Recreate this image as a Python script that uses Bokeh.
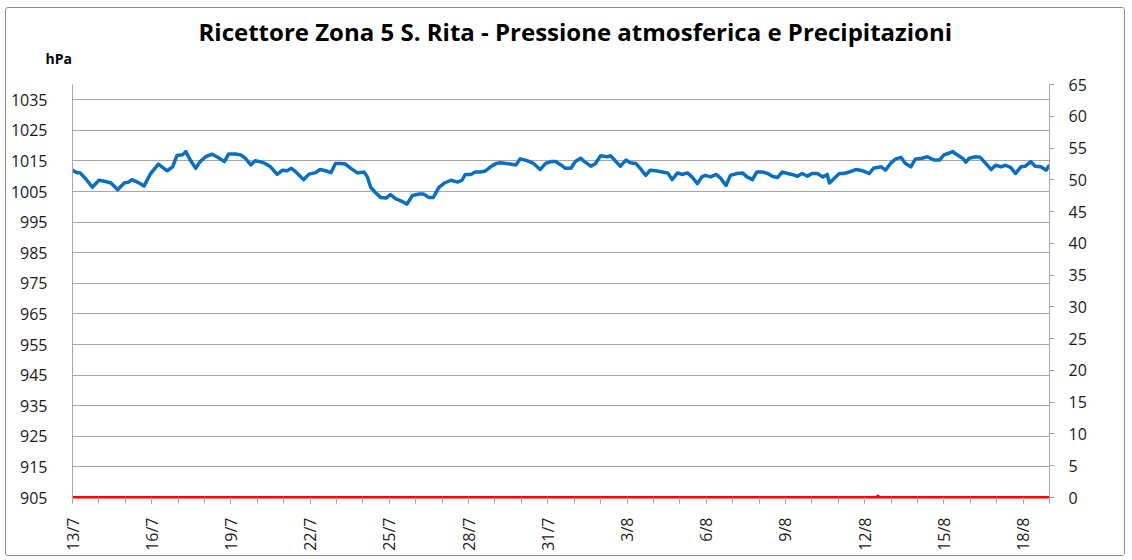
from bokeh.plotting import figure
from bokeh.models import Range1d, LinearAxis, FixedTicker, Title
from bokeh.embed import file_html
from bokeh.resources import INLINE

# ---- data (hours since 13/7 00:00) ----
pressure_hours = [0, 4, 7, 12, 18, 24, 30, 35, 41, 47, 51, 54, 59, 65, 71, 78, 86, 91, 95, 100, 103, 107, 112, 116,
                  121, 127, 132, 138, 142, 148, 153, 157, 162, 166, 171, 175,
                  180, 186, 191, 195, 199, 204, 210, 215, 221, 225, 230, 235, 239, 244, 248, 253, 259, 265, 268, 271,
                  275, 280, 285, 289, 294, 300, 304, 309, 315, 319, 324, 328, 333, 338, 344, 350, 354,
                  357, 362, 366, 371, 375, 380, 385, 389, 394, 398, 403, 407, 413, 419, 425, 430, 435, 439, 444, 448,
                  453, 457, 462, 466, 471, 475, 480, 486, 489, 494, 498, 503, 507, 512, 516, 521, 525, 530,
                  536, 541, 545, 550, 554, 559, 563, 568, 572, 575, 580, 585, 589, 594, 598, 604, 609, 613, 618, 622,
                  627, 632, 636, 641, 645, 650, 654, 659, 663, 668, 672, 677, 682, 686, 688, 692, 697, 701, 706, 712,
                  716, 721, 724, 728, 735, 739, 744, 748, 753, 757, 762, 766, 772, 777, 783, 788, 792, 797, 800, 804,
                  809, 812, 815, 821, 825, 830, 835, 839, 844, 848, 853, 857, 862, 866, 871, 875, 880, 885, 888]
pressure_hpa = [1012.0, 1011.2, 1011.1, 1009.2, 1006.4, 1008.7, 1008.3, 1007.8, 1005.6, 1007.8, 1008.1, 1008.9,
                1008.1, 1006.8, 1010.9, 1014.0, 1011.8, 1013.1, 1016.8, 1017.0, 1018.1, 1015.3, 1012.6, 1014.8,
                1016.4, 1017.2, 1016.2, 1014.8, 1017.3, 1017.3, 1017.0, 1015.9, 1013.7, 1015.1, 1014.7, 1014.2,
                1013.1, 1010.6, 1012.0, 1011.8, 1012.6, 1011.1, 1008.9, 1010.7, 1011.2, 1012.2, 1011.8, 1011.2,
                1014.2, 1014.2, 1014.0, 1012.6, 1011.1, 1011.4, 1009.8, 1006.4, 1004.8, 1003.1, 1002.9, 1004.0,
                1002.6, 1001.7, 1000.9, 1003.7, 1004.2, 1004.2, 1003.1, 1003.1, 1006.4, 1007.8, 1008.7, 1008.1, 1008.7,
                1010.6, 1010.6, 1011.4, 1011.4, 1011.7, 1013.1, 1014.2, 1014.4, 1014.2, 1014.0, 1013.7, 1015.7,
                1015.1, 1014.2, 1012.2, 1014.2, 1014.8, 1014.8, 1013.7, 1012.6, 1012.6, 1014.8, 1015.9, 1014.6,
                1013.3, 1014.0, 1016.7, 1016.4, 1016.7, 1014.8, 1013.3, 1015.3, 1014.4, 1014.2, 1012.6, 1010.3,
                1012.0, 1011.8,
                1011.4, 1011.1, 1008.9, 1011.1, 1010.6, 1011.1, 1009.8, 1007.6, 1009.8, 1010.3, 1009.8, 1010.6,
                1009.4, 1007.0, 1010.3, 1010.9, 1011.1, 1009.8, 1008.9, 1011.4, 1011.4, 1010.9, 1010.0, 1009.6,
                1011.4, 1010.9, 1010.6, 1010.0, 1010.9, 1010.0, 1010.9, 1010.9, 1009.8, 1010.6, 1007.8, 1009.2,
                1010.9, 1010.9, 1011.4, 1012.2,
                1012.0, 1011.4, 1010.9, 1012.6, 1013.1, 1012.0, 1014.4, 1015.6, 1016.2, 1014.2, 1013.1, 1015.6,
                1015.9, 1016.4, 1015.3, 1015.3, 1017.0, 1017.6, 1018.1, 1017.0, 1015.9, 1014.6, 1015.9, 1016.4,
                1016.2, 1014.2, 1012.2, 1013.6, 1013.1, 1013.6, 1012.8, 1010.9, 1013.1, 1013.3, 1014.8, 1013.3,
                1013.1, 1012.0, 1013.7]

precip_hours = [0, 731, 732, 733, 888]
precip_mm = [0.0, 0.0, 0.3, 0.0, 0.0]

x_tick_hours = [0, 72, 144, 216, 288, 360, 432, 504, 576, 648, 720, 792, 864]
x_tick_labels = ["13/7", "16/7", "19/7", "22/7", "25/7", "28/7", "31/7", "3/8", "6/8", "9/8", "12/8", "15/8", "18/8"]
x_minor_hours = list(range(0, 889, 24))
left_ticks = list(range(905, 1036, 10))
right_ticks = list(range(0, 66, 5))

title_text = "Ricettore Zona 5 S. Rita - Pressione atmosferica e Precipitazioni"
unit_text = "hPa"

FONT = "Open Sans"
GRID = "#a6a6a6"
TXT = "#1a1a1a"

p = figure(width=1120, height=549, output_backend="svg", toolbar_location=None,
           x_range=Range1d(0, 888), y_range=Range1d(905, 1040),
           min_border_left=66, min_border_right=77, min_border_top=76, min_border_bottom=60,
           background_fill_color="white", border_fill_color="white", title=None)
p.outline_line_color = None
p.extra_y_ranges = {"precip": Range1d(0, 65)}

# grids
p.xgrid.visible = False
p.ygrid.grid_line_color = GRID
p.ygrid.grid_line_width = 1

# x axis (its line is hidden under the zero-precipitation red line)
xa = p.xaxis[0]
xa.ticker = FixedTicker(ticks=x_tick_hours, minor_ticks=x_minor_hours)
xa.major_label_overrides = {h: l for h, l in zip(x_tick_hours, x_tick_labels)}
xa.major_label_orientation = 1.5708
xa.axis_line_color = "#ff0000"
xa.axis_line_width = 2
xa.major_tick_line_color = GRID
xa.minor_tick_line_color = GRID
xa.major_tick_in = 0
xa.major_tick_out = 6
xa.minor_tick_in = 0
xa.minor_tick_out = 6
xa.major_label_text_font = FONT
xa.major_label_text_font_size = "16px"
xa.major_label_text_color = TXT
xa.major_label_standoff = 14

# left axis
ya = p.yaxis[0]
ya.ticker = FixedTicker(ticks=left_ticks)
ya.axis_line_color = GRID
ya.major_tick_line_color = None
ya.minor_tick_line_color = None
ya.major_label_text_font = FONT
ya.major_label_text_font_size = "16px"
ya.major_label_text_color = TXT
ya.major_label_standoff = 19

# right axis
ra = LinearAxis(y_range_name="precip", ticker=FixedTicker(ticks=right_ticks))
ra.axis_line_color = GRID
ra.major_tick_line_color = GRID
ra.major_tick_in = 0
ra.major_tick_out = 5
ra.minor_tick_line_color = None
ra.major_label_text_font = FONT
ra.major_label_text_font_size = "16px"
ra.major_label_text_color = TXT
ra.major_label_standoff = 14
p.add_layout(ra, "right")

# series
p.line(pressure_hours, pressure_hpa, line_color="#0a6fc2", line_width=3.5, line_join="round")
p.line(precip_hours, precip_mm, line_color="#ff0000", line_width=3, y_range_name="precip")

# unit label (closest to frame) and main title (above it)
p.add_layout(Title(text=unit_text, align="left", offset=-27, text_font=FONT, text_font_size="14px",
                   text_font_style="bold", text_color="#000000", standoff=34), "above")
p.add_layout(Title(text=title_text, align="left", offset=126, text_font=FONT, text_font_size="24px",
                   text_font_style="bold", text_color="#000000", standoff=-36, padding=(0, 0, 8, 0)), "above")

p.styles = {"border": "1px solid #8c8c8c", "border-radius": "3px", "margin-left": "5px", "margin-top": "7px"}

open("out.html", "w").write(file_html(p, INLINE))
